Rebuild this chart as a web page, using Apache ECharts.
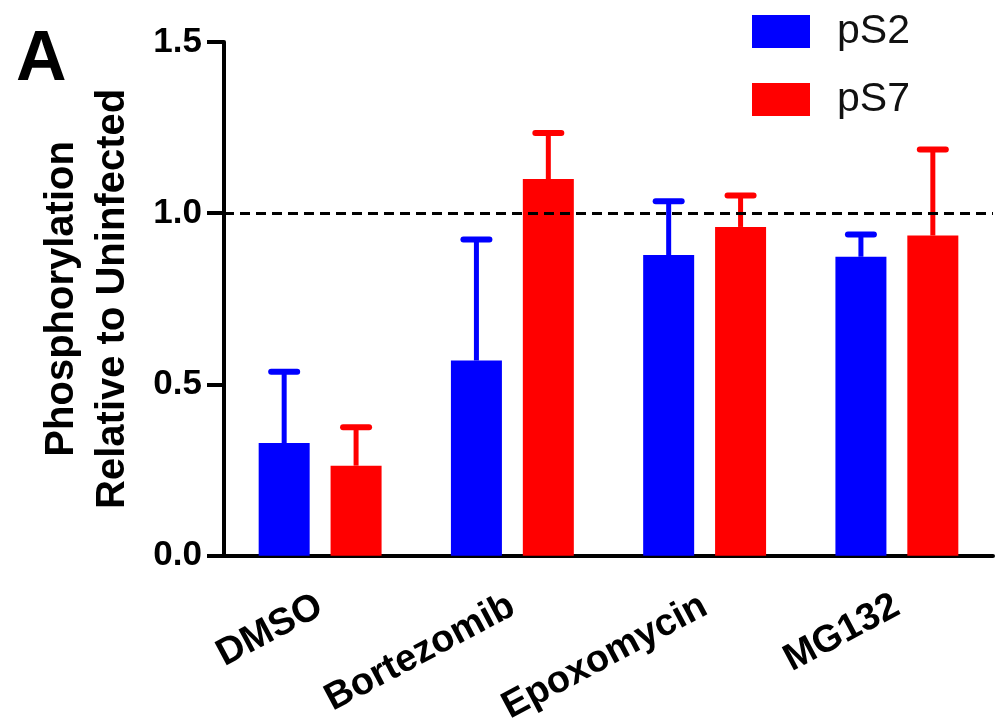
<!DOCTYPE html>
<html>
<head>
<meta charset="utf-8">
<script src="https://cdn.jsdelivr.net/npm/echarts@6/dist/echarts.min.js"></script>
<style>html,body{margin:0;padding:0;background:#fff}#c{width:998px;height:728px}</style>
</head>
<body>
<div id="c"></div>
<script>
const categories = ['DMSO', 'Bortezomib', 'Epoxomycin', 'MG132'];
const pS2 = [0.329, 0.570, 0.878, 0.873];
const pS2Err = [0.208, 0.353, 0.157, 0.065];
const pS7 = [0.263, 1.100, 0.960, 0.935];
const pS7Err = [0.112, 0.134, 0.092, 0.251];
const yTicks = [0, 0.5, 1.0, 1.5];
const refLine = 1.0;

const FONT = "'Liberation Sans', Arial, Helvetica, sans-serif";
const BLUE = '#0000ff', RED = '#ff0000';
const BAR_W = 51, GAP_RATIO = 0.41;
const OFFSET = (BAR_W + BAR_W * GAP_RATIO) / 2;

function errSeries(name, vals, errs, color, sign) {
  return {
    name: name + ' err', type: 'custom', z: 4,
    data: vals.map((v, i) => [i, v, errs[i]]),
    encode: { x: 0, y: 1 },
    renderItem: function (params, api) {
      const ci = api.value(0), v = api.value(1), e = api.value(2);
      const base = api.coord([ci, v]);
      const top = api.coord([ci, v + e]);
      const x = base[0] + sign * OFFSET;
      return {
        type: 'group',
        children: [
          { type: 'line', shape: { x1: x, y1: base[1], x2: x, y2: top[1] },
            style: { stroke: color, lineWidth: 5 } },
          { type: 'line', shape: { x1: x - 13, y1: top[1], x2: x + 13, y2: top[1] },
            style: { stroke: color, lineWidth: 6, lineCap: 'round' } }
        ]
      };
    }
  };
}

const chart = echarts.init(document.getElementById('c'), null, { renderer: 'canvas' });
chart.setOption({
  animation: false,
  backgroundColor: '#fff',
  textStyle: { fontFamily: FONT },
  graphic: [{
    type: 'text', left: 16, top: 26,
    style: { text: 'A', font: 'bold 70px ' + FONT, fill: '#000' }
  }],
  legend: {
    data: ['pS2', 'pS7'],
    orient: 'vertical', left: 747, top: 6,
    itemWidth: 58, itemHeight: 33, itemGap: 27,
    icon: 'rect',
    textStyle: { fontSize: 41, color: '#111', fontFamily: FONT, padding: [0, 0, 0, 22] }
  },
  grid: { left: 224, right: 5, top: 42, bottom: 171, containLabel: false },
  xAxis: {
    type: 'category', data: categories,
    axisLine: { lineStyle: { color: '#000', width: 4 } },
    axisTick: { alignWithLabel: true, length: 15, lineStyle: { color: '#000', width: 4 } },
    axisLabel: { rotate: 28, interval: 0, fontSize: 38, fontWeight: 'bold', color: '#000', margin: 48, fontFamily: FONT }
  },
  yAxis: {
    type: 'value', min: 0, max: 1.5, interval: 0.5,
    name: 'Phosphorylation\nRelative to Uninfected',
    nameLocation: 'middle', nameRotate: 90, nameGap: 86,
    nameTextStyle: { fontSize: 40, fontWeight: 'bold', color: '#000', lineHeight: 51, fontFamily: FONT },
    axisLine: { show: true, lineStyle: { color: '#000', width: 4 } },
    axisTick: { show: true, length: 17, lineStyle: { color: '#000', width: 4 } },
    axisLabel: { fontSize: 35, fontWeight: 'bold', color: '#000', margin: 22, fontFamily: FONT,
      formatter: v => yTicks.includes(v) ? v.toFixed(1) : '' },
    splitLine: { show: false }
  },
  series: [
    { name: 'pS2', type: 'bar', data: pS2, barWidth: BAR_W, barGap: (GAP_RATIO * 100) + '%',
      itemStyle: { color: BLUE }, z: 2,
      markLine: { silent: true, symbol: 'none', label: { show: false },
        lineStyle: { color: '#000', type: [10, 6], width: 3 },
        data: [{ yAxis: refLine }] } },
    { name: 'pS7', type: 'bar', data: pS7, barWidth: BAR_W, barGap: (GAP_RATIO * 100) + '%',
      itemStyle: { color: RED }, z: 3 },
    errSeries('pS2', pS2, pS2Err, BLUE, -1),
    errSeries('pS7', pS7, pS7Err, RED, 1)
  ]
});
</script>
</body>
</html>
